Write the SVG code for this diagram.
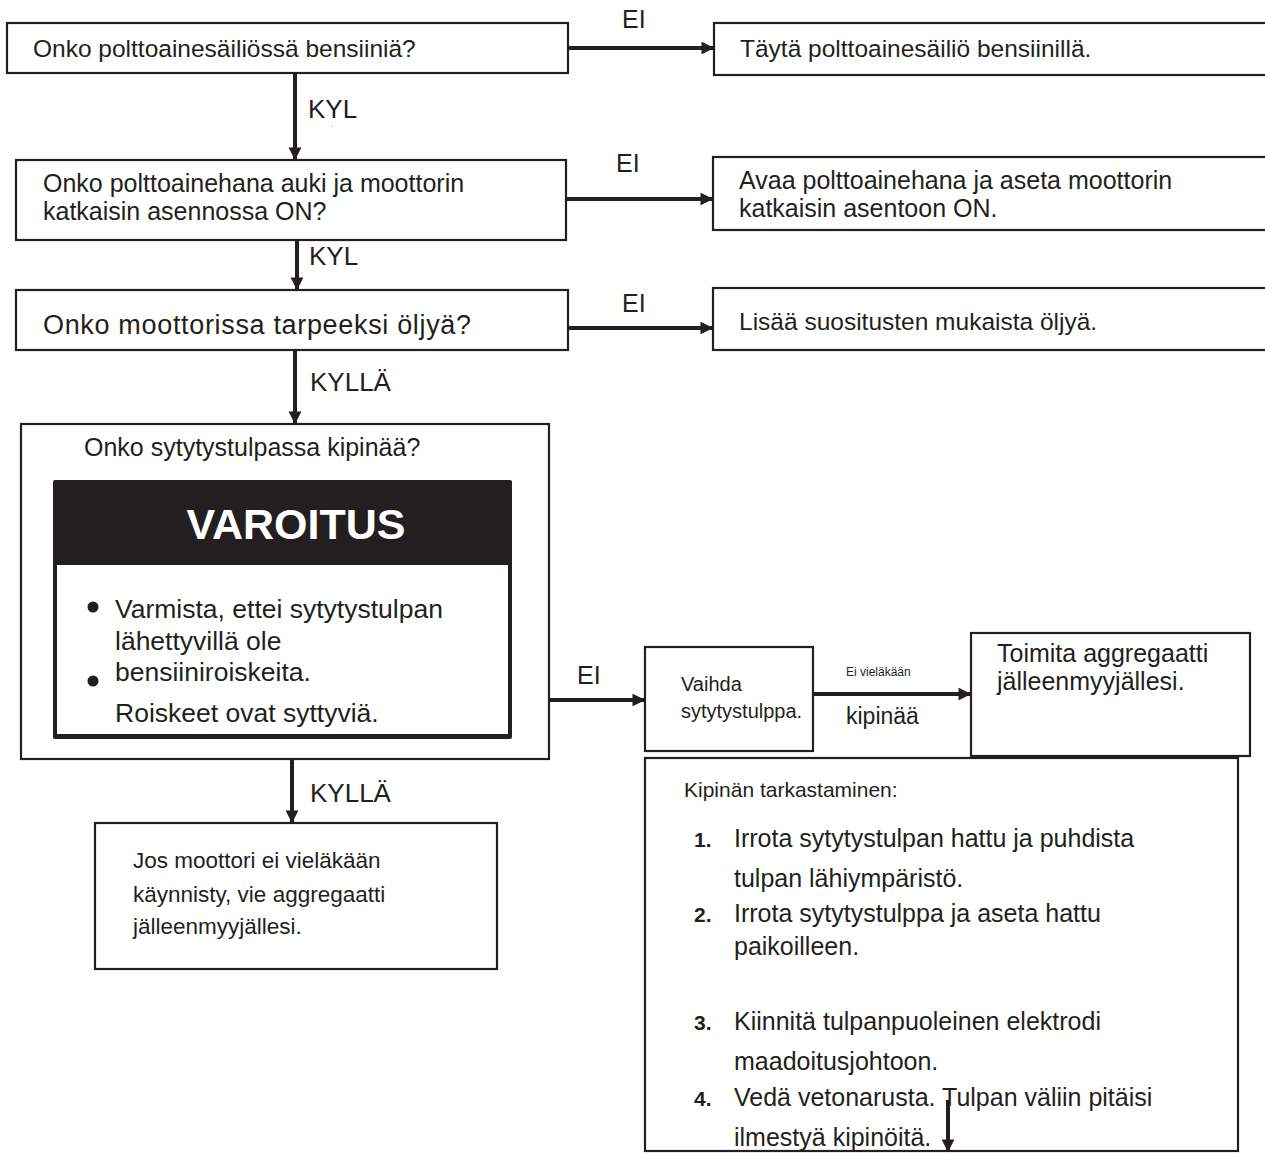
<svg xmlns="http://www.w3.org/2000/svg" width="1265" height="1154" viewBox="0 0 1265 1154">
<defs>
<style>
.box{fill:#fff;stroke:#231f20;stroke-width:2.2}
.t{font-family:"Liberation Sans",Arial,sans-serif;font-size:25px;fill:#231f20}
.s{font-size:20px}
.b{font-weight:bold}
.conn line{stroke:#231f20;stroke-width:4}
</style>
<marker id="ah" viewBox="0 0 10 10" refX="9" refY="5" markerWidth="3.4" markerHeight="3.2" orient="auto" markerUnits="strokeWidth">
<path d="M0,0 L10,5 L0,10 z" fill="#231f20"/>
</marker>
</defs>
<rect width="1265" height="1154" fill="#fff"/>

<g id="n1">
<rect class="box" x="7" y="23" width="561" height="50"/>
<text class="t" x="33" y="57" style="font-size:24.5px">Onko polttoainesäiliössä bensiiniä?</text>
</g>
<g id="n2">
<rect class="box" x="714" y="23" width="560" height="52"/>
<text class="t" x="740" y="57" style="font-size:24.5px">Täytä polttoainesäiliö bensiinillä.</text>
</g>
<g id="n3">
<rect class="box" x="16" y="160" width="550" height="80"/>
<text class="t" x="43" y="192">Onko polttoainehana auki ja moottorin</text>
<text class="t" x="43" y="220">katkaisin asennossa ON?</text>
</g>
<g id="n4">
<rect class="box" x="713" y="157" width="560" height="73"/>
<text class="t" x="739" y="189">Avaa polttoainehana ja aseta moottorin</text>
<text class="t" x="739" y="217">katkaisin asentoon ON.</text>
</g>
<g id="n5">
<rect class="box" x="16" y="290" width="552" height="60"/>
<text class="t" x="43" y="334" textLength="428" lengthAdjust="spacing" style="font-size:27px">Onko moottorissa tarpeeksi öljyä?</text>
</g>
<g id="n6">
<rect class="box" x="713" y="288" width="560" height="62"/>
<text class="t" x="739" y="330" style="font-size:24.5px">Lisää suositusten mukaista öljyä.</text>
</g>
<g id="n7">
<rect class="box" x="21" y="424" width="528" height="335"/>
<text class="t" x="84" y="456">Onko sytytystulpassa kipinää?</text>
<rect x="53" y="480" width="459" height="259" rx="2" fill="#231f20"/>
<rect x="57" y="565" width="451" height="169" fill="#fff"/>
<text class="t b" x="296" y="539" text-anchor="middle" style="font-size:43px;fill:#fff">VAROITUS</text>
<circle cx="93" cy="607" r="5.5" fill="#231f20"/>
<circle cx="93" cy="681" r="5.5" fill="#231f20"/>
<text class="t" x="115" y="618" style="font-size:26.5px">Varmista, ettei sytytystulpan</text>
<text class="t" x="115" y="650" style="font-size:26.5px">lähettyvillä ole</text>
<text class="t" x="115" y="681" style="font-size:26.5px">bensiiniroiskeita.</text>
<text class="t" x="115" y="722" style="font-size:26.5px">Roiskeet ovat syttyviä.</text>
</g>
<g id="n8">
<rect class="box" x="645" y="647" width="168" height="104"/>
<text class="t s" x="681" y="691">Vaihda</text>
<text class="t s" x="681" y="718">sytytystulppa.</text>
</g>
<g id="n9">
<rect class="box" x="971" y="633" width="279" height="123"/>
<text class="t" x="997" y="662">Toimita aggregaatti</text>
<text class="t" x="997" y="690">jälleenmyyjällesi.</text>
</g>
<g id="n10">
<rect class="box" x="645" y="758" width="593" height="393"/>
<text class="t" x="684" y="797" style="font-size:21px">Kipinän tarkastaminen:</text>
<text class="t b" x="694" y="847" style="font-size:21px">1.</text>
<text class="t" x="734" y="847">Irrota sytytystulpan hattu ja puhdista</text>
<text class="t" x="734" y="887">tulpan lähiympäristö.</text>
<text class="t b" x="694" y="922" style="font-size:21px">2.</text>
<text class="t" x="734" y="922">Irrota sytytystulppa ja aseta hattu</text>
<text class="t" x="734" y="955">paikoilleen.</text>
<text class="t b" x="694" y="1030" style="font-size:21px">3.</text>
<text class="t" x="734" y="1030">Kiinnitä tulpanpuoleinen elektrodi</text>
<text class="t" x="734" y="1070">maadoitusjohtoon.</text>
<text class="t b" x="694" y="1106" style="font-size:21px">4.</text>
<text class="t" x="734" y="1106">Vedä vetonarusta. Tulpan väliin pitäisi</text>
<text class="t" x="734" y="1146">ilmestyä kipinöitä.</text>
</g>
<g id="n11">
<rect class="box" x="95" y="823" width="402" height="146"/>
<text class="t" x="133" y="868" style="font-size:22.5px">Jos moottori ei vieläkään</text>
<text class="t" x="133" y="902" style="font-size:22.5px">käynnisty, vie aggregaatti</text>
<text class="t" x="133" y="934" style="font-size:22.5px">jälleenmyyjällesi.</text>
</g>

<g id="connectors" class="conn">
<line x1="568" y1="48" x2="713" y2="48" marker-end="url(#ah)"/>
<line x1="295" y1="73" x2="295" y2="159" marker-end="url(#ah)"/>
<line x1="566" y1="199" x2="712" y2="199" marker-end="url(#ah)"/>
<line x1="297" y1="240" x2="297" y2="289" marker-end="url(#ah)"/>
<line x1="568" y1="328" x2="712" y2="328" marker-end="url(#ah)"/>
<line x1="295" y1="350" x2="295" y2="423" marker-end="url(#ah)"/>
<line x1="549" y1="700" x2="644" y2="700" marker-end="url(#ah)"/>
<line x1="813" y1="694" x2="970" y2="694" marker-end="url(#ah)"/>
<line x1="292" y1="759" x2="292" y2="822" marker-end="url(#ah)"/>
<line x1="948" y1="1100" x2="948" y2="1151" marker-end="url(#ah)"/>
<g class="t">
<text x="622" y="28">EI</text>
<text x="308" y="118" style="font-size:26px">KYL</text>
<text x="331" y="131" style="font-size:7px">¨</text>
<text x="616" y="172">EI</text>
<text x="309" y="265" style="font-size:26px">KYL</text>
<text x="622" y="312">EI</text>
<text x="310" y="391" style="font-size:26px">KYLLÄ</text>
<text x="577" y="684">EI</text>
<text x="846" y="676" style="font-size:12px">Ei vieläkään</text>
<text x="846" y="724" style="font-size:23px">kipinää</text>
<text x="310" y="802" style="font-size:26px">KYLLÄ</text>
</g>
</g>
</svg>
